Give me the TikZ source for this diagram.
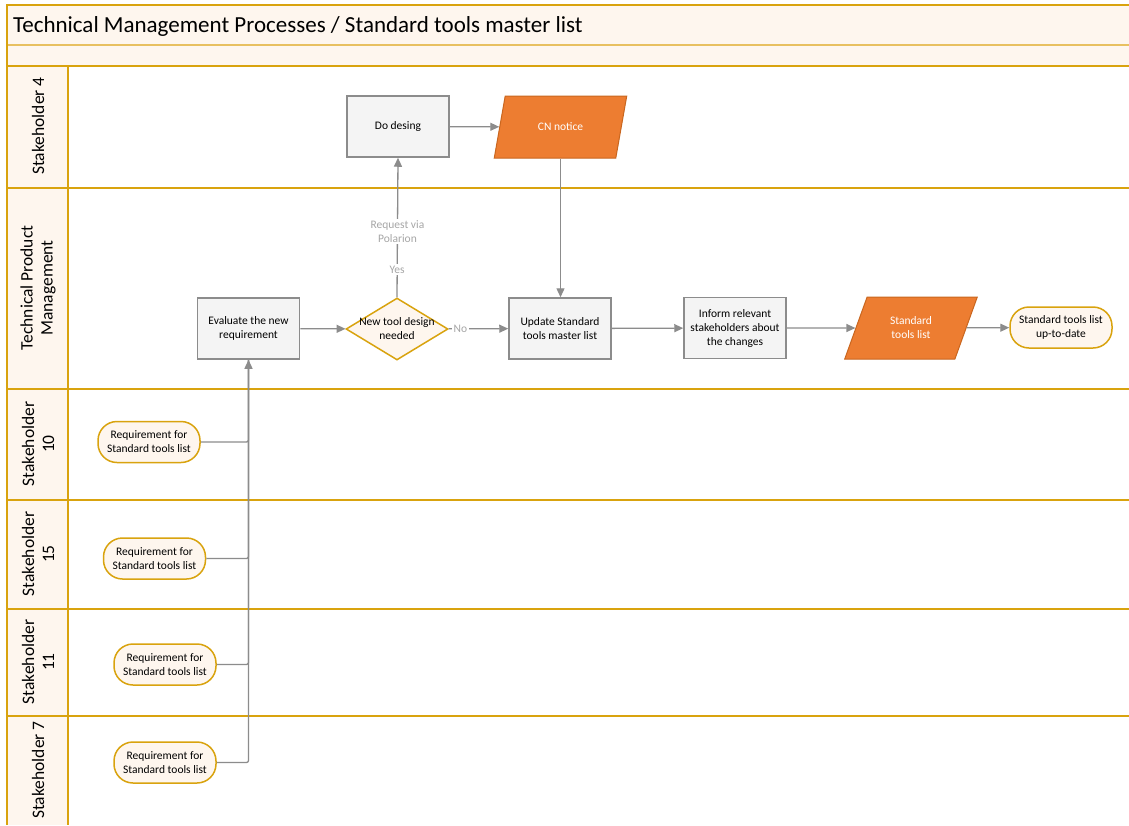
\documentclass[tikz,border=0pt]{standalone}
\usepackage{fontspec}
\setmainfont{Carlito}
\usetikzlibrary{arrows.meta,shapes.geometric}
\definecolor{gold}{HTML}{D9A30E}
\definecolor{goldlt}{HTML}{E8C060}
\definecolor{cream}{HTML}{FEF6EE}
\definecolor{boxfill}{HTML}{F4F4F4}
\definecolor{boxline}{HTML}{8C8C8C}
\definecolor{orangef}{HTML}{ED7D31}
\definecolor{oranged}{HTML}{C9661F}
\definecolor{conn}{HTML}{8C8C8C}
\definecolor{lbl}{HTML}{A6A6A6}
\tikzset{
  lane/.style={gold, line width=2pt},
  lanelabel/.style={rotate=90, align=center, font=\fontsize{17.5}{20}\selectfont},
  txt/.style={align=center, font=\fontsize{11.5}{14}\selectfont, inner sep=1pt},
  proc/.style={txt, rectangle, draw=boxline, fill=boxfill, line width=1.5pt, minimum width=102pt, minimum height=61pt},
  data/.style={txt, trapezium, trapezium left angle=65, trapezium right angle=115, trapezium stretches=true, minimum width=133pt, minimum height=62pt, fill=orangef, draw=oranged, line width=1pt, text=white},
  decision/.style={txt, diamond, aspect=1.65, inner sep=-5pt, minimum width=102pt, minimum height=62pt, fill=cream, draw=gold, line width=1.5pt},
  term/.style={txt, rectangle, rounded corners=19pt, minimum width=102pt, minimum height=41pt, fill=cream, draw=gold, line width=1.5pt},
  conn/.style={draw=conn, line width=1.3pt},
  arr/.style={conn, -{Triangle[length=9pt,width=8pt]}},
  lab/.style={font=\fontsize{11.5}{14}\selectfont, text=lbl, fill=white, inner sep=1.5pt, align=center}
}
\begin{document}
\begin{tikzpicture}[x=1pt,y=-1pt]
\useasboundingbox (0,0) rectangle (1129,825);
\fill[white] (0,0) rectangle (1129,825);
\fill[cream] (7,5) rectangle (1129,66);
\fill[cream] (7,66) rectangle (68,825);
% lane lines
\draw[goldlt, line width=2pt] (7,45) -- (1129,45);
\foreach \yy in {66,188,389,500,609,716} \draw[lane] (7,\yy) -- (1129,\yy);
\draw[lane] (1129,5) -- (7,5) -- (7,825);
\draw[lane] (68,66) -- (68,825);
% title
\node[anchor=west, font=\fontsize{23}{27}\selectfont, inner sep=0pt] (title) at (13,26) {Technical Management Processes / Standard tools master list};
% lane labels
\node[lanelabel] (l4) at (38,126) {Stakeholder 4};
\node[lanelabel] (ltpm) at (38,288) {Technical Product\\Management};
\node[lanelabel] (l10) at (38,444) {Stakeholder\\10};
\node[lanelabel] (l15) at (38,554) {Stakeholder\\15};
\node[lanelabel] (l11) at (38,662) {Stakeholder\\11};
\node[lanelabel] (l7) at (38,770) {Stakeholder 7};
% nodes
\node[proc] (dodes) at (398,126.5) {Do desing};
\node[data] (cn) at (560.5,127) {CN notice};
\node[proc] (eval) at (248.5,328.5) {Evaluate the new\\requirement};
\node[decision] (dia) at (397,329) {New tool design\\needed};
\node[proc] (upd) at (560,328.5) {Update Standard\\tools master list};
\node[proc] (inf) at (735,328) {Inform relevant\\stakeholders about\\the changes};
\node[data] (stl) at (911,328) {Standard\\tools list};
\node[term] (end) at (1061,327.5) {Standard tools list\\up-to-date};
\node[term] (r10) at (149,442) {Requirement for\\Standard tools list};
\node[term] (r15) at (154.5,558.5) {Requirement for\\Standard tools list};
\node[term] (r11) at (165,664.5) {Requirement for\\Standard tools list};
\node[term] (r7) at (165,762.5) {Requirement for\\Standard tools list};
% connectors
\draw[arr] (dodes) -- (cn);
\draw[arr] (cn.south) -- (cn.south |- upd.north);
\draw[arr] (eval) -- (dia);
\draw[arr] (dia) -- node[lab, pos=0.2] {No} (upd);
\draw[arr] (dia.north) -- node[lab, pos=0.2] {Yes} node[lab, pos=0.47] {Request via\\Polarion} (dodes.south);
\draw[arr] (upd) -- (inf);
\draw[arr] (inf) -- (stl);
\draw[arr] (stl) -- (end);
\draw[conn, rounded corners=2pt] (r10.east) -| (eval.south);
\draw[conn, rounded corners=2pt] (r15.east) -| (eval.south);
\draw[conn, rounded corners=2pt] (r11.east) -| (eval.south);
\draw[arr, rounded corners=2pt] (r7.east) -| (eval.south);
\end{tikzpicture}
\end{document}
